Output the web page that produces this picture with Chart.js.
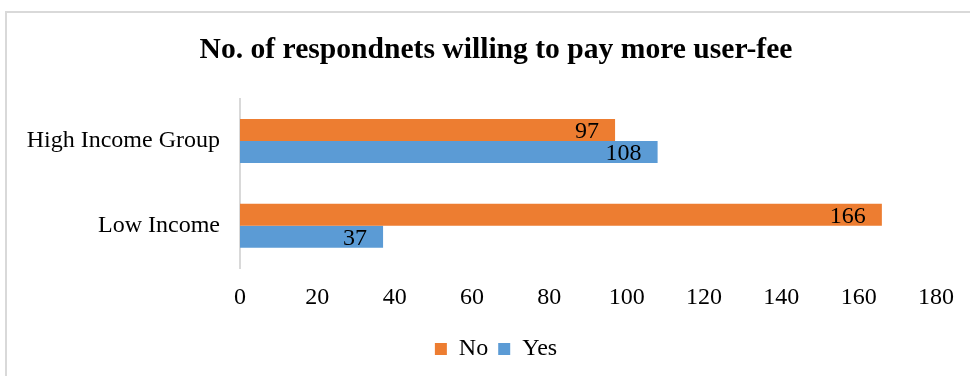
<!DOCTYPE html>
<html>
<head>
<meta charset="utf-8">
<script src="https://cdn.jsdelivr.net/npm/chart.js@4"></script>
<style>
  html, body { margin: 0; padding: 0; background: #fff; }
  #frame {
    position: absolute; left: 5px; top: 11px;
    width: 990px; height: 400px;
    border: 2px solid #d9d9d9;
  }
  #wrap { position: absolute; left: 0; top: 0; width: 970px; height: 376px; }
</style>
</head>
<body>
<div id="frame"></div>
<div id="wrap"><canvas id="myChart"></canvas></div>
<script>
const categories = ['High Income Group', 'Low Income'];
const noValues = [97, 166];
const yesValues = [108, 37];
const xTicks = [0, 20, 40, 60, 80, 100, 120, 140, 160, 180];

const serif = '"Liberation Serif", "Times New Roman", serif';

// value labels at the inner end of each bar
const barLabels = {
    id: 'barLabels',
    afterDatasetsDraw(chart) {
        const ctx = chart.ctx;
        ctx.save();
        ctx.font = '24px ' + serif;
        ctx.fillStyle = '#000';
        ctx.textAlign = 'right';
        ctx.textBaseline = 'middle';
        chart.data.datasets.forEach((ds, i) => {
            chart.getDatasetMeta(i).data.forEach((bar, j) => {
                ctx.fillText(ds.data[j], bar.x - 16, bar.y + 2);
            });
        });
        ctx.restore();
    }
};

// let the long category names spill left of the y scale box without being clipped
const wideLabels = {
    id: 'wideLabels',
    afterLayout(chart) {
        chart.scales.y.left = 0;
    }
};

document.addEventListener("DOMContentLoaded", function () {
    const data = {
        labels: categories,
        datasets: [
            {
                label: 'No',
                data: noValues,
                backgroundColor: '#ED7D31',
                barPercentage: 1.0,
                categoryPercentage: 0.52
            },
            {
                label: 'Yes',
                data: yesValues,
                backgroundColor: '#5B9BD5',
                barPercentage: 1.0,
                categoryPercentage: 0.52
            }
        ]
    };
    const config = {
        type: 'bar',
        data: data,
        options: {
            indexAxis: 'y',
            responsive: false,
            animation: false,
            layout: {
                padding: { left: 56, right: 34, top: 19, bottom: 5 }
            },
            scales: {
                x: {
                    min: 0,
                    max: 180,
                    afterBuildTicks: (scale) => {
                        scale.ticks = xTicks.map(v => ({ value: v }));
                    },
                    grid: { display: false, drawTicks: false },
                    border: { display: false },
                    ticks: {
                        color: '#000',
                        padding: 15,
                        maxRotation: 0,
                        font: { family: serif, size: 24 }
                    }
                },
                y: {
                    afterFit: (scale) => { scale.width = 184; },
                    grid: { display: false, drawTicks: false },
                    border: { display: true, color: '#d9d9d9', width: 2 },
                    ticks: {
                        color: '#000',
                        padding: 20,
                        font: { family: serif, size: 24 }
                    }
                }
            },
            plugins: {
                title: {
                    display: true,
                    text: 'No. of respondnets willing to pay more user-fee',
                    color: '#000',
                    font: { family: serif, size: 29.6, weight: 'bold' },
                    padding: { top: 14, bottom: 30 }
                },
                legend: {
                    position: 'bottom',
                    labels: {
                        color: '#000',
                        boxWidth: 12,
                        boxHeight: 12,
                        padding: 10,
                        font: { family: serif, size: 24 }
                    }
                },
                tooltip: { enabled: false }
            }
        },
        plugins: [barLabels, wideLabels]
    };
    const canvas = document.getElementById('myChart');
    canvas.width = 970;
    canvas.height = 376;
    var myChart = new Chart(canvas, config);
});
</script>
</body>
</html>
